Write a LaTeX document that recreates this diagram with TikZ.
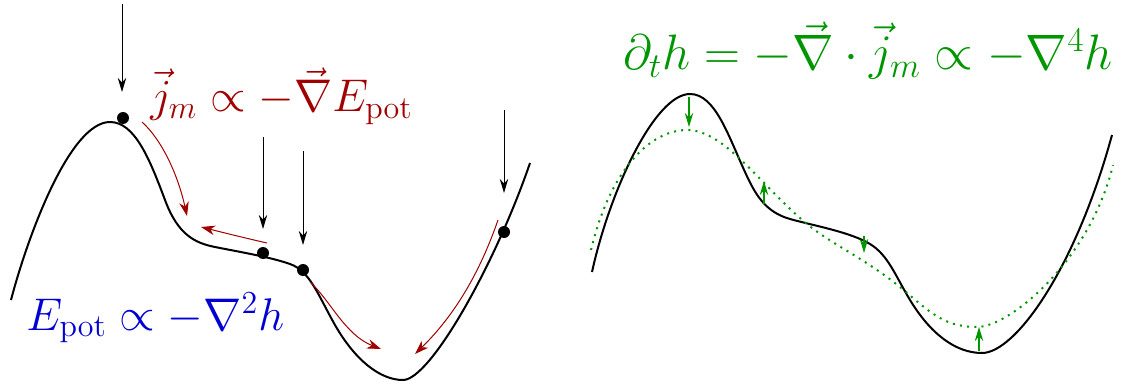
\RequirePackage{fix-cm}
\documentclass[tikz,border=0pt]{standalone}
\usetikzlibrary{arrows.meta}
\definecolor{myred}{RGB}{160,0,0}
\definecolor{myblue}{RGB}{0,0,210}
\definecolor{mygreen}{RGB}{0,150,0}
\tikzset{
  surf/.style={line width=1pt, line join=round},
  dot/.style={circle, fill=black, inner sep=0pt, minimum size=6pt},
  fallarrow/.style={line width=0.5pt, -{Stealth[length=7pt,width=4.2pt,inset=2.2pt]}},
  flowarrow/.style={myred, line width=0.5pt, -{Stealth[length=7pt,width=4.8pt,inset=2.2pt]}},
  relaxarrow/.style={mygreen, line width=0.6pt, -{Stealth[length=7pt,width=4.2pt,inset=2.2pt]}},
  smoothed/.style={mygreen, line width=1pt, dash pattern=on 1pt off 2.6pt},
  formula/.style={inner sep=0pt, font=\fontsize{22.9}{27}\selectfont},
  bigformula/.style={inner sep=0pt, font=\fontsize{24.9}{29}\selectfont},
}
\begin{document}
\begin{tikzpicture}[x=0.5pt,y=-0.5pt]
\useasboundingbox (0,0) rectangle (1123,385);

% ---------- left panel ----------
\draw[surf] (11,300) .. controls (28,235) and (70,122) .. (110,122)
  .. controls (135,122) and (150,160) .. (165,200)
  .. controls (178,235) and (195,243) .. (215,247)
  .. controls (240,252) and (270,257) .. (290,264)
  .. controls (310,271) and (318,295) .. (335,325)
  .. controls (355,360) and (380,380) .. (403,380)
  .. controls (430,380) and (495,265) .. (530,163);

\node[dot] (d1) at (123,118) {};
\node[dot] (d2) at (263,253) {};
\node[dot] (d3) at (303,270) {};
\node[dot] (d4) at (504,232) {};

\coordinate (s1) at (122,4);   \coordinate (e1) at (122,92);
\coordinate (s2) at (263,137); \coordinate (e2) at (263,229);
\coordinate (s3) at (303,151); \coordinate (e3) at (303,245);
\coordinate (s4) at (504,110); \coordinate (e4) at (504,193);
\draw[fallarrow] (s1) -- (e1);
\draw[fallarrow] (s2) -- (e2);
\draw[fallarrow] (s3) -- (e3);
\draw[fallarrow] (s4) -- (e4);

\coordinate (r1s) at (142,122); \coordinate (r1e) at (187,216);
\coordinate (r2s) at (267,243); \coordinate (r2e) at (201,227);
\coordinate (r3s) at (310,282); \coordinate (r3e) at (381,349);
\coordinate (r4s) at (498,220); \coordinate (r4e) at (415,354);
\draw[flowarrow] (r1s) .. controls (162,140) and (178,175) .. (r1e);
\draw[flowarrow] (r2s) .. controls (245,238) and (225,233) .. (r2e);
\draw[flowarrow] (r3s) .. controls (330,300) and (345,335) .. (r3e);
\draw[flowarrow] (r4s) .. controls (480,272) and (455,315) .. (r4e);

\node[formula, myred, anchor=base west] (jm) at (150,112)
  {$\vec{j}_m \propto -\vec{\nabla} E_{\mathrm{pot}}$};
\node[formula, myblue, anchor=base west] (ep) at (26,330)
  {$E_{\mathrm{pot}} \propto -\nabla^2 h$};

% ---------- right panel ----------
\draw[surf] (592,272) .. controls (610,190) and (655,94) .. (690,94)
  .. controls (715,94) and (728,135) .. (745,172)
  .. controls (755,194) and (765,212) .. (790,219)
  .. controls (815,226) and (850,232) .. (870,244)
  .. controls (888,255) and (895,275) .. (910,300)
  .. controls (930,333) and (955,353) .. (982,353)
  .. controls (1015,353) and (1075,270) .. (1112,135);

\draw[smoothed] (591,250) .. controls (610,170) and (650,130) .. (687,130)
  .. controls (725,130) and (760,185) .. (807,224)
  .. controls (835,247) and (870,260) .. (913,298)
  .. controls (935,317) and (950,327) .. (977,327)
  .. controls (1010,327) and (1090,260) .. (1113,165);

\coordinate (g1s) at (689,97);  \coordinate (g1e) at (689,127);
\coordinate (g2s) at (764,204); \coordinate (g2e) at (764,181);
\coordinate (g3s) at (864,236); \coordinate (g3e) at (864,253);
\coordinate (g4s) at (979,351); \coordinate (g4e) at (979,327);
\draw[relaxarrow] (g1s) -- (g1e);
\draw[relaxarrow] (g2s) -- (g2e);
\draw[relaxarrow] (g3s) -- (g3e);
\draw[relaxarrow] (g4s) -- (g4e);

\node[bigformula, mygreen, anchor=base east] (dth) at (1113,70)
  {$\partial_t h = -\vec{\nabla}\cdot\vec{j}_m \propto -\nabla^4 h$};
\end{tikzpicture}
\end{document}
